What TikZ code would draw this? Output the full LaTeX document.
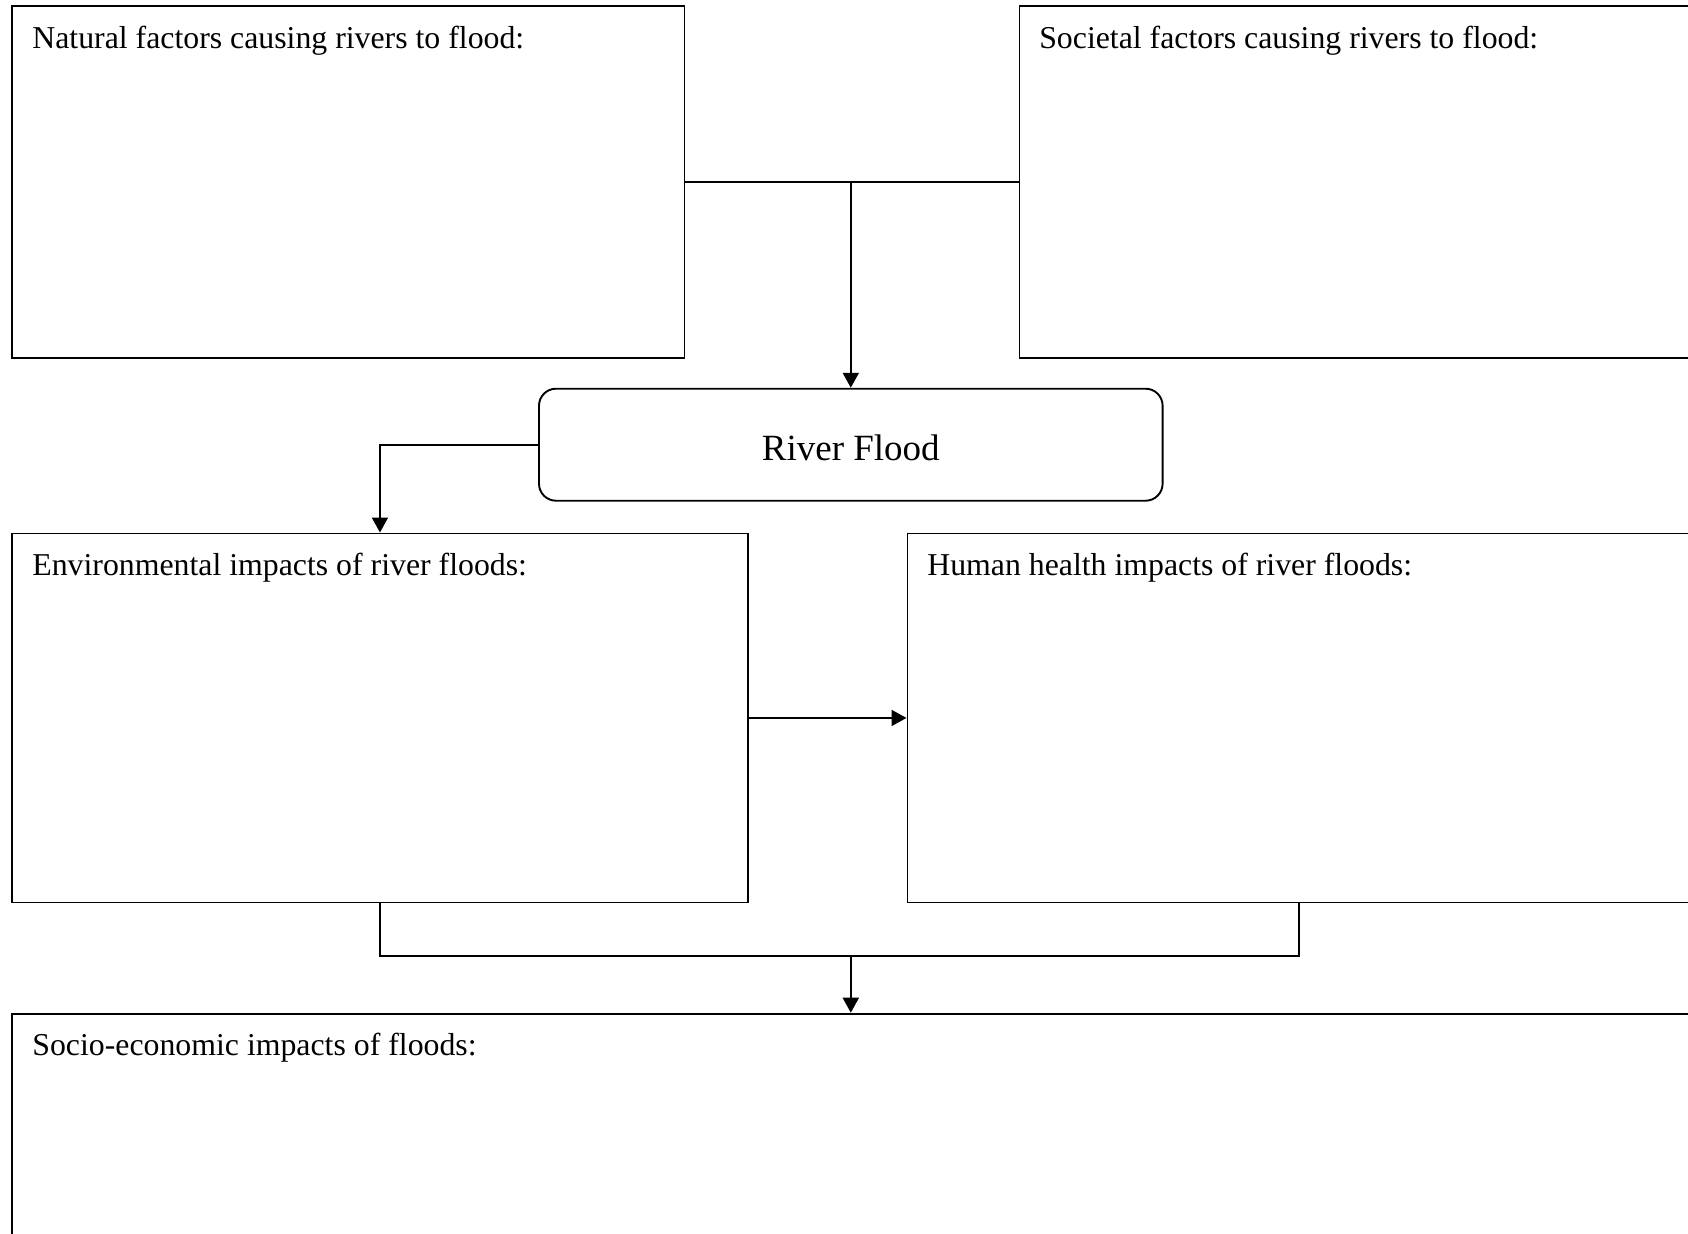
\documentclass[tikz,border=0pt]{standalone}
\usepackage{fontspec}
\setmainfont{Liberation Serif}
\usetikzlibrary{arrows.meta}
\begin{document}
\begin{tikzpicture}[x=0.5pt,y=-0.5pt,
  box/.style={draw, line width=0.95pt, inner sep=0pt, anchor=north west},
  ttl/.style={anchor=base west, inner sep=0pt, font=\fontsize{15.9}{19}\selectfont},
  conn/.style={line width=0.95pt},
  arr/.style={conn, -{Triangle[width=8pt,length=7.5pt]}}]
\useasboundingbox (0,0) rectangle (1688,1233);
\clip (0,0) rectangle (1688,1233);
\fill[white] (0,0) rectangle (1688,1233);
% boxes
\node[box, minimum width=336.25pt, minimum height=175.85pt] (nat) at (11,5) {};
\node[box, minimum width=350.75pt, minimum height=175.85pt] (soc) at (1018.5,5) {};
\node[box, rounded corners=8.5pt, anchor=center, minimum width=311.8pt, minimum height=56pt] (rf) at (850.8,444.7) {};
\node[box, minimum width=368pt, minimum height=184.5pt] (env) at (11,532.5) {};
\node[box, minimum width=406.75pt, minimum height=184.5pt] (hum) at (906.5,532.5) {};
\node[box, minimum width=854.5pt, minimum height=143.65pt] (sec) at (11,1012.7) {};
% titles
\node[anchor=base, inner sep=0pt, font=\fontsize{18.5}{22}\selectfont] (trf) at ([yshift=-7.8pt]rf.center) {River Flood};
\node[ttl] (tnat) at ([xshift=10.5pt,yshift=-21.6pt]nat.north west) {Natural factors causing rivers to flood:};
\node[ttl] (tsoc) at ([xshift=10.2pt,yshift=-21.6pt]soc.north west) {Societal factors causing rivers to flood:};
\node[ttl] (tenv) at ([xshift=10.5pt,yshift=-21.3pt]env.north west) {Environmental impacts of river floods:};
\node[ttl] (thum) at ([xshift=10.2pt,yshift=-21.3pt]hum.north west) {Human health impacts of river floods:};
\node[ttl] (tsec) at ([xshift=10.5pt,yshift=-21.3pt]sec.north west) {Socio-economic impacts of floods:};
% connectors
\coordinate (j1) at (850.8,180.85);
\draw[conn] (nat.east) -- (soc.west);
\draw[arr] (j1) -- (rf.north);
\draw[arr] (rf.west) -| (env.north);
\draw[arr] (env.east) -- (hum.west);
\coordinate (hb) at (1299.4,901.5);
\coordinate (j2) at (850.8,956);
\draw[conn] (env.south) |- (j2) -| (hb);
\draw[arr] (j2) -- (j2 |- sec.north);
\end{tikzpicture}
\end{document}
